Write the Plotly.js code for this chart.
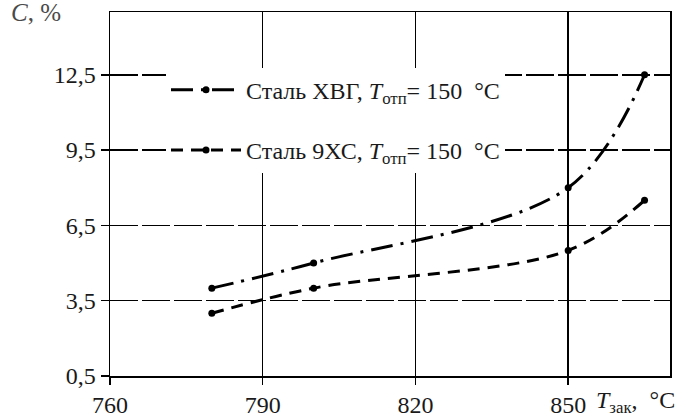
<!DOCTYPE html>
<html>
<head>
<meta charset="utf-8">
<script src="https://cdn.plot.ly/plotly-3.0.1.min.js"></script>
<style>html,body{margin:0;padding:0;background:#fff;}#chart{width:678px;height:420px;}</style>
</head>
<body>
<div id="chart"></div>
<script>
const temps = [780, 800, 850, 865];
const cKhvg = [4.0, 5.0, 8.0, 12.5];
const c9khs = [3.0, 4.0, 5.5, 7.5];
const seriesNames = ['Сталь ХВГ, <i>T</i><sub>отп</sub>= 150 &nbsp;°C', 'Сталь 9ХС, <i>T</i><sub>отп</sub>= 150 &nbsp;°C'];
const xTicks = [760, 790, 820, 850];
const yTicks = [0.5, 3.5, 6.5, 9.5, 12.5];
const yTickLabels = ['0,5', '3,5', '6,5', '9,5', '12,5'];

const FONT = '"Liberation Serif"';

const traces = [
  {
    x: temps, y: cKhvg, name: seriesNames[0], legendgroup: 'a',
    mode: 'lines+markers', type: 'scatter',
    line: {color: '#000', width: 3, dash: '22px,8px,3px,8px', shape: 'spline', smoothing: 1},
    marker: {color: '#000', size: 7, symbol: 'circle'}
  },
  {
    x: temps, y: c9khs, name: seriesNames[1], legendgroup: 'b',
    mode: 'lines+markers', type: 'scatter',
    line: {color: '#000', width: 3, dash: '12px,8px', shape: 'spline', smoothing: 1},
    marker: {color: '#000', size: 7, symbol: 'circle'}
  }
];

const layout = {
  width: 678, height: 420,
  margin: {l: 110, r: 8, t: 12, b: 44},
  paper_bgcolor: '#fff', plot_bgcolor: '#fff',
  font: {family: FONT, size: 24, color: '#1a1a1a'},
  showlegend: true,
  legend: {
    x: 0.1, y: 0.847, xanchor: 'left', yanchor: 'top',
    bgcolor: '#fff', borderwidth: 0,
    font: {family: FONT, size: 24, color: '#1a1a1a'},
    itemwidth: 70, tracegroupgap: 26, traceorder: 'grouped'
  },
  xaxis: {
    range: [760, 870], tickvals: xTicks, ticktext: xTicks.map(String),
    showgrid: true, gridcolor: '#000', gridwidth: 1.5,
    showline: true, linecolor: '#000', linewidth: 1.5, mirror: true,
    ticks: 'outside', ticklen: 7, tickcolor: '#000', tickwidth: 1.5,
    tickfont: {family: FONT, size: 24, color: '#1a1a1a'},
    zeroline: false, fixedrange: true
  },
  yaxis: {
    range: [0.5, 15], tickvals: yTicks, ticktext: yTickLabels,
    showgrid: true, gridcolor: '#000', gridwidth: 1.5, griddash: '28px,4px',
    showline: true, linecolor: '#000', linewidth: 1.5, mirror: true,
    ticks: 'outside', ticklen: 8, tickcolor: '#000', tickwidth: 1.5,
    tickfont: {family: FONT, size: 24, color: '#1a1a1a'},
    zeroline: false, fixedrange: true
  },
  annotations: [
    {text: '<i>C</i>, %', xref: 'paper', yref: 'paper', x: -0.18, y: 1.0, xanchor: 'left', yanchor: 'middle',
     showarrow: false, font: {family: FONT, size: 25, color: '#4a4a4a'}},
    {text: '<i>T</i><sub>зак</sub>, &nbsp;°C', xref: 'paper', yref: 'paper', x: 1.012, y: -0.072, xanchor: 'right', yanchor: 'middle',
     showarrow: false, font: {family: FONT, size: 24, color: '#1a1a1a'}}
  ]
};

Plotly.newPlot('chart', traces, layout, {displayModeBar: false, staticPlot: true});
</script>
</body>
</html>
